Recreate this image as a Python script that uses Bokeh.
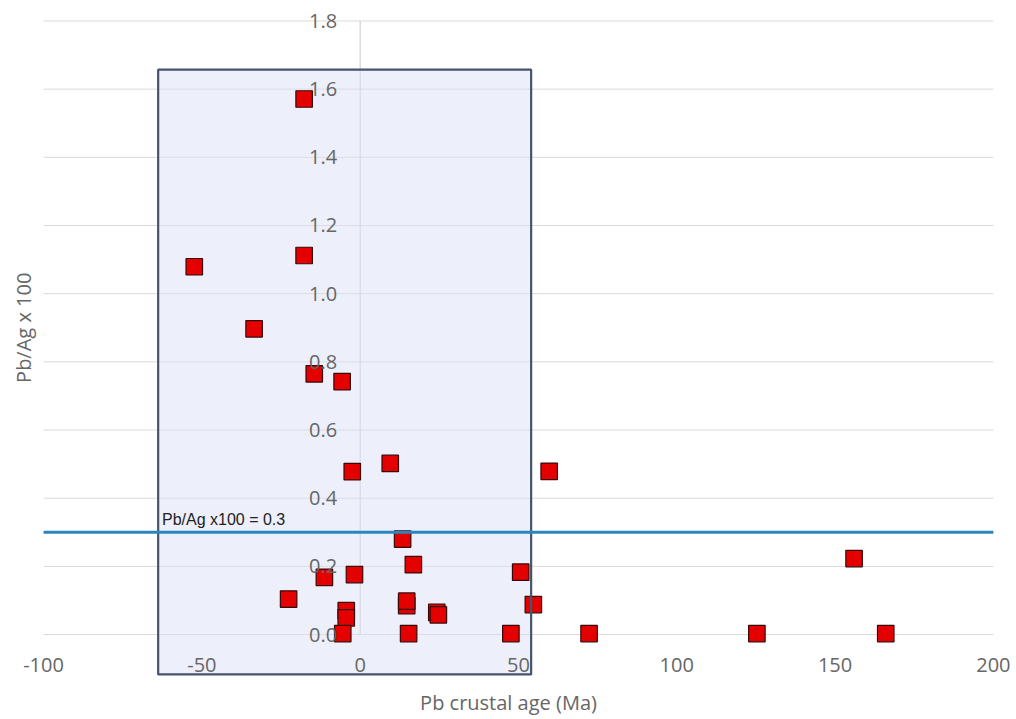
import math
from bokeh.plotting import figure
from bokeh.models import (LinearAxis, FixedTicker, PrintfTickFormatter, Range1d,
                          Label)
from bokeh.embed import file_html
from bokeh.resources import INLINE

# ---- data ----
pb_age = [-17.7, -52.4, -17.7, -33.5, -14.5, -5.7, -2.5, 9.5, 59.7,
          13.4, 16.8, 50.7, 14.7, 14.7, 24.2, 24.7, 15.3, 47.6, 54.7,
          72.3, 125.3, 156.0, 166.0, -22.6, -11.3, -1.8, -4.4, -4.4, -5.5]
pb_ag = [1.571, 1.079, 1.112, 0.897, 0.765, 0.742, 0.478, 0.502, 0.479,
         0.280, 0.205, 0.183, 0.085, 0.098, 0.065, 0.058, 0.003, 0.003, 0.088,
         0.003, 0.003, 0.223, 0.003, 0.104, 0.168, 0.176, 0.070, 0.049, 0.003]
threshold = 0.3
threshold_label = "Pb/Ag x100 = 0.3"
box_x = [-63.8, 54.0]
box_y = [-0.117, 1.657]
x_ticks = [-100, -50, 0, 50, 100, 150, 200]
y_ticks = [0.0, 0.2, 0.4, 0.6, 0.8, 1.0, 1.2, 1.4, 1.6, 1.8]

FONT = "Open Sans"
TICK_COLOR = "#666666"

p = figure(width=1016, height=719, x_range=Range1d(-113.6, 207.3),
           y_range=Range1d(-0.123, 1.86), output_backend="svg",
           toolbar_location=None, min_border_left=0, min_border_right=0,
           min_border_top=0, min_border_bottom=43)
p.outline_line_color = None
p.background_fill_color = "white"

# main axes drawn at zero
xax = p.xaxis[0]
xax.fixed_location = 0
xax.ticker = FixedTicker(ticks=x_ticks)
xax.formatter = PrintfTickFormatter(format="%d")
xax.axis_line_color = None
xax.major_tick_line_color = None
xax.minor_tick_line_color = None
xax.major_label_standoff = 17
xax.major_label_text_font = FONT
xax.major_label_text_font_size = "20px"
xax.major_label_text_color = TICK_COLOR

yax = p.yaxis[0]
yax.fixed_location = 0
yax.ticker = FixedTicker(ticks=y_ticks)
yax.formatter = PrintfTickFormatter(format="%.1f")
yax.axis_line_color = None
yax.major_tick_line_color = None
yax.minor_tick_line_color = None
yax.major_label_standoff = 17
yax.major_label_text_font = FONT
yax.major_label_text_font_size = "20px"
yax.major_label_text_color = TICK_COLOR

# x title axis below the frame
p.add_layout(LinearAxis(ticker=FixedTicker(ticks=[]), axis_label="Pb crustal age (Ma)",
                        axis_line_color=None, major_tick_line_color=None,
                        minor_tick_line_color=None, major_tick_out=0, major_tick_in=0,
                        major_label_standoff=0, axis_label_standoff=12,
                        axis_label_text_font=FONT, axis_label_text_font_size="20px",
                        axis_label_text_font_style="normal",
                        axis_label_text_color=TICK_COLOR), "below")

# y title
p.add_layout(Label(x=-106.3, y=(y_ticks[0] + y_ticks[-1]) / 2, text="Pb/Ag x 100",
                   angle=math.pi / 2, text_align="center", text_baseline="middle",
                   text_font=FONT, text_font_size="20px", text_color=TICK_COLOR))

# grid: horizontal lines spanning the x tick extent
p.xgrid.visible = False
p.ygrid.visible = False
p.segment(x0=[x_ticks[0]] * len(y_ticks), y0=y_ticks,
          x1=[x_ticks[-1]] * len(y_ticks), y1=y_ticks,
          line_color="#d9d9d9", line_width=1, level="underlay")

# vertical axis line at x = 0
p.segment(x0=[0], y0=[y_ticks[0]], x1=[0], y1=[y_ticks[-1]],
          line_color="#c8c8c8", line_width=1, level="underlay")

# shaded box (fill)
p.quad(left=[box_x[0]], right=[box_x[1]], bottom=[box_y[0]], top=[box_y[1]],
       fill_color="#dbe2f7", fill_alpha=0.5, line_color=None)

# data points
p.scatter(pb_age, pb_ag, marker="square", size=16.5, fill_color="#e50000",
          line_color="#3a0808", line_width=1.2)

# box outline on top
p.quad(left=[box_x[0]], right=[box_x[1]], bottom=[box_y[0]], top=[box_y[1]],
       fill_color=None, line_color="#46546a", line_width=2.2)

# threshold line and label
p.line(x=[x_ticks[0], x_ticks[-1]], y=[threshold, threshold],
       line_color="#2b86bd", line_width=3)
p.add_layout(Label(x=box_x[0] + 1.2, y=threshold + 0.012, text=threshold_label,
                   text_font="Liberation Sans", text_font_size="16px",
                   text_color="#222222"))

open("out.html", "w").write(file_html(p, INLINE))
